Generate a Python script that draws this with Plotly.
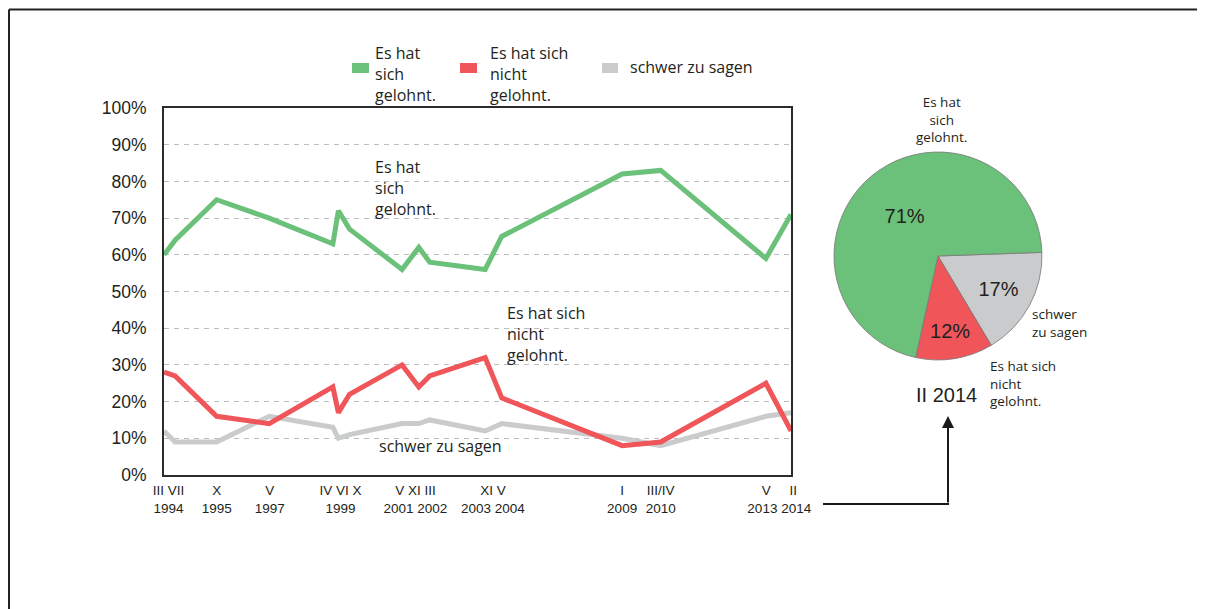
import plotly.graph_objects as go

# Umfragetermine (Monat/Jahr)
termine = ["1994-03-01", "1994-07-01", "1995-10-01", "1997-05-01", "1999-04-01", "1999-06-01",
           "1999-10-01", "2001-05-01", "2001-11-01", "2002-03-01", "2003-11-01", "2004-05-01",
           "2009-01-01", "2010-03-01", "2013-05-01", "2014-02-01"]

# Anteile in %
gelohnt = [60, 64, 75, 70, 63, 72, 67, 56, 62, 58, 56, 65, 82, 83, 59, 71]
nicht_gelohnt = [28, 27, 16, 14, 24, 17, 22, 30, 24, 27, 32, 21, 8, 9, 25, 12]
schwer = [12, 9, 9, 16, 13, 10, 11, 14, 14, 15, 12, 14, 10, 8, 16, 17]

# Achsenbeschriftung (gruppiert wie im Original)
nb = "\u00a0"
tick_daten = ["1994-04-20", "1995-10-01", "1997-05-08", "1999-06-25", "2001-09-25",
              "2004-01-25", "2009-01-01", "2010-03-01", "2013-09-25"]
tick_texte = ["III VII<br>1994", "X<br>1995", "V<br>1997", "IV VI X<br>1999",
              "V XI III<br>2001 2002", "XI V<br>2003 2004", "I<br>2009", "III/IV<br>2010",
              "V" + nb * 5 + "II<br>2013 2014"]

# Torte II 2014 (im Uhrzeigersinn ab 3 Uhr)
pie_labels = ["schwer zu sagen", "Es hat sich nicht gelohnt.", "Es hat sich gelohnt."]
pie_werte = [17, 12, 71]

GRUEN = "#6bc07a"
ROT = "#ef5559"
GRAU = "#c9cbcd"
TEXT = "#231f20"
ARIAL = "Liberation Sans, Arial, sans-serif"
MYRIAD = "Open Sans, sans-serif"

# die Seite hat 8px Rand, die Grafik fuellt den Rest des Fensters
RAND = 8
W, H = 1205 - RAND, 609 - RAND


def px(x):
    return (x - RAND) / W


def py(y):
    return 1 - (y - RAND) / H


fig = go.Figure()

for werte, farbe, name in [(schwer, GRAU, "schwer zu sagen"),
                           (nicht_gelohnt, ROT, "Es hat sich nicht gelohnt."),
                           (gelohnt, GRUEN, "Es hat sich gelohnt.")]:
    fig.add_trace(go.Scatter(
        x=termine, y=[v / 100 for v in werte], mode="lines", name=name,
        line=dict(color=farbe, width=5), showlegend=False,
        xaxis="x", yaxis="y",
    ))

fig.add_trace(go.Pie(
    labels=pie_labels, values=pie_werte, sort=False,
    direction="clockwise", rotation=88,
    marker=dict(colors=[GRAU, ROT, GRUEN], line=dict(color="#777777", width=0.8)),
    texttemplate="%{value}%", textposition="inside", insidetextorientation="horizontal",
    textfont=dict(family=ARIAL, size=20, color=TEXT),
    domain=dict(x=[px(834), px(1042)], y=[py(360), py(152)]),
    showlegend=False, hoverinfo="label+percent",
))

fig.update_layout(
    width=W, height=H,
    margin=dict(l=0, r=0, t=0, b=0, autoexpand=False),
    paper_bgcolor="white", plot_bgcolor="white",
    showlegend=False,
    xaxis=dict(
        type="date", domain=[px(164), px(791)],
        range=["1994-03-01", "2014-02-01"],
        rangebreaks=[dict(bounds=["2006-01-01", "2007-01-18"])],
        tickmode="array", tickvals=tick_daten, ticktext=tick_texte, tickangle=0,
        tickfont=dict(family=ARIAL, size=13.5, color=TEXT),
        showgrid=False, zeroline=False,
        showline=True, mirror=True, linecolor="#2b2b2b", linewidth=2,
        ticks="", ticklabelstandoff=2, automargin=False,
    ),
    yaxis=dict(
        domain=[py(475), py(108)], range=[0, 1],
        tickmode="array", tickvals=[i / 10 for i in range(11)], tickformat=".0%",
        tickfont=dict(family=ARIAL, size=17.5, color=TEXT),
        showgrid=True, gridcolor="#bdbdbd", gridwidth=1, griddash="5px,5px",
        zeroline=False,
        showline=True, mirror=True, linecolor="#2b2b2b", linewidth=2,
        ticks="", ticklabelstandoff=12, automargin=False,
    ),
)

annots = [
    # Beschriftungen im Liniendiagramm
    dict(x=px(373), y=py(188), text="Es hat<br>sich<br>gelohnt.", xanchor="left", align="left", size=16, fam=MYRIAD),
    dict(x=px(505), y=py(334), text="Es hat sich<br>nicht<br>gelohnt.", xanchor="left", align="left", size=16, fam=MYRIAD),
    dict(x=px(377), y=py(446), text="schwer zu sagen", xanchor="left", align="left", size=16, fam=MYRIAD),
    # Legende
    dict(x=px(373), y=py(74), text="Es hat<br>sich<br>gelohnt.", xanchor="left", align="left", size=16, fam=MYRIAD),
    dict(x=px(488), y=py(74), text="Es hat sich<br>nicht<br>gelohnt.", xanchor="left", align="left", size=16, fam=MYRIAD),
    dict(x=px(628), y=py(67), text="schwer zu sagen", xanchor="left", align="left", size=16, fam=MYRIAD),
    # Torte
    dict(x=px(941), y=py(119), text="Es hat<br>sich<br>gelohnt.", xanchor="center", align="center", size=13.5, fam=MYRIAD),
    dict(x=px(1030), y=py(323), text="schwer<br>zu sagen", xanchor="left", align="left", size=13.5, fam=MYRIAD),
    dict(x=px(988), y=py(383), text="Es hat sich<br>nicht<br>gelohnt.", xanchor="left", align="left", size=13.5, fam=MYRIAD),
    dict(x=px(946), y=py(395), text="II 2014", xanchor="center", align="center", size=20, fam=ARIAL),
]
for a in annots:
    fig.add_annotation(
        x=a["x"], y=a["y"], xref="paper", yref="paper", text=a["text"],
        xanchor=a["xanchor"], yanchor="middle", align=a["align"], showarrow=False,
        font=dict(family=a["fam"], size=a["size"], color=TEXT),
    )

# Pfeil zur Torte
fig.add_annotation(
    x=px(948), y=py(416), xref="paper", yref="paper", ax=0, ay=88,
    text="", showarrow=True, arrowhead=2, arrowsize=1.2, arrowwidth=2, arrowcolor="#1a1a1a",
)
shapes = [
    dict(type="line", x0=px(823), x1=px(949), y0=py(504), y1=py(504),
         line=dict(color="#1a1a1a", width=2)),
    # Legendenfelder
    dict(type="rect", x0=px(352), x1=px(369), y0=py(73), y1=py(63), fillcolor=GRUEN, line=dict(width=0)),
    dict(type="rect", x0=px(460), x1=px(477), y0=py(73), y1=py(63), fillcolor=ROT, line=dict(width=0)),
    dict(type="rect", x0=px(602), x1=px(618), y0=py(73), y1=py(63), fillcolor=GRAU, line=dict(width=0)),
    # Seitenrahmen
    dict(type="line", x0=px(9), x1=1, y0=py(9.5), y1=py(9.5), line=dict(color="#222222", width=2)),
    dict(type="line", x0=px(9), x1=px(9), y0=py(9.5), y1=0, line=dict(color="#222222", width=2)),
]
for s in shapes:
    fig.add_shape(xref="paper", yref="paper", **s)

fig.write_html("out.html")
